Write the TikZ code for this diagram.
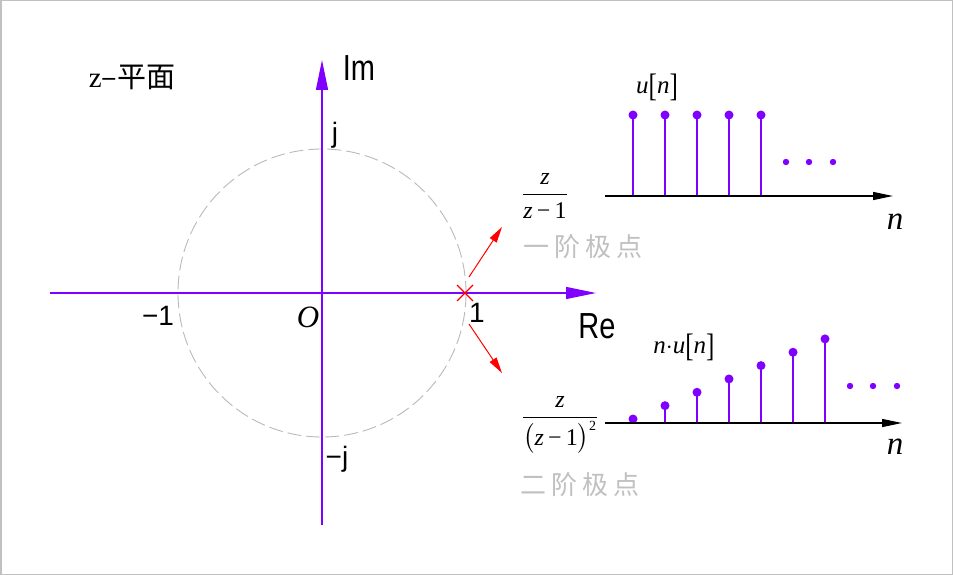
\documentclass[tikz,border=0pt]{standalone}
\usepackage{amsmath}
\usepackage{graphicx}
\usepackage{fontspec}
\setmainfont{Liberation Serif}
\newfontfamily\cjk{Noto Sans CJK SC}
\newfontfamily\sansf{Liberation Sans}
\newfontfamily\seritf{Liberation Serif Italic}
\usetikzlibrary{arrows.meta}
\definecolor{vio}{RGB}{128,0,255}
\definecolor{lgray}{RGB}{192,192,192}
\definecolor{cgray}{RGB}{185,185,185}
\newcommand{\tallsans}[1]{\scalebox{1}[1.25]{#1}}
\newcommand{\lbr}{\raisebox{-0.12em}{\scalebox{1}[1.3]{[}}}
\newcommand{\rbr}{\raisebox{-0.12em}{\scalebox{1}[1.3]{]}}}
\newcommand{\iz}{\text{\seritf z}}
\begin{document}
\begin{tikzpicture}[x=1pt,y=-1pt,
  axisline/.style={vio, line width=1.3pt, -{Triangle[length=30pt,width=12pt]}},
  naxis/.style={black, line width=1.3pt, -{Triangle[length=20pt,width=8pt]}},
  circ/.style={cgray, line width=0.9pt, dash pattern=on 14pt off 5pt},
  redarrow/.style={red, line width=1pt, -{Triangle[length=16pt,width=8pt]}},
  stemline/.style={vio, line width=1.4pt},
  stemdot/.style={vio, fill=vio},
  sanslbl/.style={inner sep=0pt, font=\sansf\fontsize{28}{28}\selectfont},
  biglbl/.style={inner sep=0pt, font=\sansf\fontsize{29}{29}\selectfont},
  cjklbl/.style={inner sep=0pt, text=lgray, font=\cjk\fontsize{26}{26}\selectfont},
  mathlbl/.style={inner sep=0pt, font=\fontsize{24}{28}\selectfont},
  nlbl/.style={inner sep=0pt, font=\fontsize{33}{33}\selectfont\itshape}]
\useasboundingbox (0,0) rectangle (953,575);
\draw[color=lgray, line width=1.5pt] (0.75,0.75) rectangle (952.25,574.25);

% z-plane
\coordinate (O) at (322,293);
\draw[circ] (O) circle[radius=144];
\coordinate (xl) at (50,293);
\coordinate (xr) at (596,293);
\coordinate (yb) at (322,525);
\coordinate (yt) at (322,60);
\draw[axisline] (xl) -- (xr);
\draw[axisline] (yb) -- (yt);

\node[inner sep=0pt, font=\fontsize{29}{29}\selectfont] (title) at (132,77) {z{\cjk –平面}};
\node[biglbl] (im) at (359,68) {\tallsans{Im}};
\node[biglbl] (re) at (597,326) {\tallsans{Re}};
\node[sanslbl] (j) at (335,135) {j};
\node[sanslbl] (mj) at (337,459) {−j};
\node[sanslbl] (m1) at (158,316) {−1};
\node[sanslbl] (p1) at (477,313) {1};
\node[inner sep=0pt, font=\fontsize{31}{31}\selectfont\itshape] (o) at (308,317) {O};

% pole
\coordinate (pole) at (465,293);
\draw[red, line width=1.2pt] (457,285) -- (473,301) (457,301) -- (473,285);
\coordinate (a1s) at (469,277);
\coordinate (a1e) at (502,227);
\coordinate (a2s) at (469,324);
\coordinate (a2e) at (502,373);
\draw[redarrow] (a1s) -- (a1e);
\draw[redarrow] (a2s) -- (a2e);

% fractions and labels
\node[mathlbl, anchor=base] (f1) at (545,201) {$\dfrac{\iz}{\iz\,\text{−}\,\text{1}}$};
\node[cjklbl] (c1) at (583,247) {一\hspace{5pt}阶\hspace{5pt}极\hspace{5pt}点};
\node[mathlbl, anchor=base] (f2) at (560,424) {$\dfrac{\iz}{\bigl(\iz\,\text{−}\,\text{1}\bigr)^{\text{\fontsize{14}{14}\selectfont 2}}}$};
\node[cjklbl] (c2) at (580,485) {二\hspace{5pt}阶\hspace{5pt}极\hspace{5pt}点};

% top stem plot u[n]
\coordinate (t0) at (605,196);
\coordinate (t1) at (893,196);
\foreach \k in {0,...,4} {
  \draw[stemline] ({633+32*\k},196) -- ({633+32*\k},115);
  \fill[stemdot] ({633+32*\k},115) circle[radius=4.5];
}
\draw[naxis] (t0) -- (t1);
\foreach \x in {786,809,833} \fill[stemdot] (\x,162) circle[radius=3.2];
\node[inner sep=0pt, font=\fontsize{25}{25}\selectfont] (un) at (657,87) {\textit{u}\lbr\textit{n}\rbr};
\node[nlbl] (n1) at (895,222) {n};

% bottom stem plot n u[n]
\coordinate (b0) at (605,423);
\coordinate (b1) at (902,423);
\foreach \k in {0,...,6} {
  \draw[stemline] ({633+32*\k},423) -- ({633+32*\k},{419-13.35*\k});
  \fill[stemdot] ({633+32*\k},{419-13.35*\k}) circle[radius=4.5];
}
\draw[naxis] (b0) -- (b1);
\foreach \x in {850,873,897} \fill[stemdot] (\x,386) circle[radius=3.2];
\node[inner sep=0pt, font=\fontsize{25}{25}\selectfont] (nun) at (684,347) {\textit{n}$\cdot$\textit{u}\lbr\textit{n}\rbr};
\node[nlbl] (n2) at (895,447) {n};
\end{tikzpicture}
\end{document}
